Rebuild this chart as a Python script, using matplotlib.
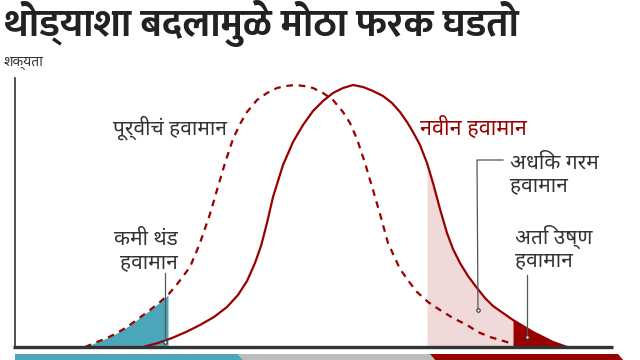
import matplotlib
matplotlib.use("Agg")
import matplotlib.pyplot as plt
import numpy as np

plt.rcParams['font.family'] = ['Noto Sans Devanagari', 'Noto Sans Devanagari UI', 'Mukta', 'DejaVu Sans']

# पूर्वीचं हवामान (old climate)
old_x = [85, 97, 107, 117, 127, 138, 150, 160, 168, 178, 190, 200, 210, 217, 225, 233, 240, 247,
         257, 267, 277, 286, 295, 304, 313, 323, 333, 343, 350, 357, 365, 373, 380, 388, 400, 410,
         417, 428, 440, 453, 467, 478, 490, 500, 510, 525]
old_y = [0, 5, 9, 14, 20, 28, 37, 45, 52, 64, 80, 104, 133, 157, 184, 208, 223, 235,
         247, 254, 259, 261, 262, 261, 259, 254, 247, 235, 224, 208, 184, 157, 133, 104, 78, 64,
         55, 45, 37, 29, 22, 15, 10, 7, 4, 0]

# नवीन हवामान (new climate)
new_x = [143, 158, 172, 186, 200, 214, 227, 238, 247, 255, 261, 267, 273, 283, 293, 303, 313, 323,
         333, 343, 353, 363, 373, 383, 392, 400, 407, 413, 420, 427, 433, 440, 447, 453, 460, 468,
         477, 485, 493, 503, 513, 523, 533, 543, 553, 567]
new_y = [0, 4, 9, 15, 22, 30, 40, 52, 66, 84, 101, 124, 150, 182, 205, 222, 236, 246,
         254, 259, 262, 260, 256, 251, 244, 235, 225, 215, 202, 184, 164, 138, 114, 98, 84, 71,
         59, 49, 41, 34, 27, 21, 15, 10, 5, 0]

# thresholds of the shaded tails
cold_limit = 168
warm_limit = 427
hot_limit = 513

# bottom band categories
band_edges = [15, 238, 430, 618]
band_colors = ['#4ba6ba', '#bdbdbd', '#990000']

red = '#990000'
grey = '#333333'

old_x = np.array(old_x)
old_y = np.array(old_y)
new_x = np.array(new_x)
new_y = np.array(new_y)

fig = plt.figure(figsize=(6.4, 3.6), dpi=100)
ax = fig.add_axes([0, 0, 1, 1])
ax.set_xlim(0, 640)
ax.set_ylim(-13, 347)
ax.axis('off')

# shaded tails
ax.fill_between(old_x, old_y, 0, where=old_x <= cold_limit, color='#4ba6ba', lw=0)
ax.fill_between(new_x, new_y, 0, where=(new_x >= warm_limit) & (new_x <= hot_limit),
                color='#efd9d9', lw=0)
ax.fill_between(new_x, new_y, 0, where=new_x >= hot_limit, color=red, lw=0)

# curves
ax.plot(old_x, old_y, color=red, lw=1.6, ls=(0, (3, 2.6)))
ax.plot(new_x, new_y, color=red, lw=1.6)

# axes lines
ax.plot([15, 15], [0, 269], color=grey, lw=1.2)
ax.plot([13, 613], [0, 0], color=grey, lw=2.4, solid_capstyle='butt')

# bottom band
for i in range(len(band_colors)):
    x0, x1 = band_edges[i], band_edges[i + 1]
    ax.fill([x0, x1, x1 + 6, x0 + 6 if i else x0], [-7, -7, -14, -14],
            color=band_colors[i], lw=0)

# leader lines
mk = dict(marker='o', markersize=2.5, markerfacecolor='white', markeredgecolor=grey,
          markeredgewidth=0.8, markevery=[-1])
ax.plot([165, 165], [74, 5], color='#555555', lw=0.9, **mk)
ax.plot([503, 477, 478], [187, 187, 37], color='#555555', lw=0.9, **mk)
ax.plot([527, 527], [72, 10], color='#555555', lw=0.9, **mk)

# labels
ax.text(113, 219, 'पूर्वीचं हवामान', color=grey, fontsize=15, va='center', ha='left')
ax.text(420, 219, 'नवीन हवामान', color=red, fontsize=15.5, va='center', ha='left')
ax.text(510, 173, 'अधिक गरम\nहवामान', color=grey, fontsize=15, va='center', ha='left',
        linespacing=1.1)
ax.text(515, 99, 'अति उष्ण\nहवामान', color=grey, fontsize=15, va='center', ha='left',
        linespacing=1.1)
ax.text(178, 96, 'कमी थंड\nहवामान', color=grey, fontsize=15, va='center', ha='right',
        linespacing=1.1)
ax.text(4, 285, 'शक्यता', color=grey, fontsize=10, va='center', ha='left')

fig.text(0.006, 0.935, 'थोड्याशा बदलामुळे मोठा फरक घडतो', fontsize=28, fontweight='bold',
         family=['Mukta', 'Noto Sans Devanagari UI', 'DejaVu Sans'],
         color='#222222', va='center', ha='left')

fig.savefig('out.png', dpi=100)
